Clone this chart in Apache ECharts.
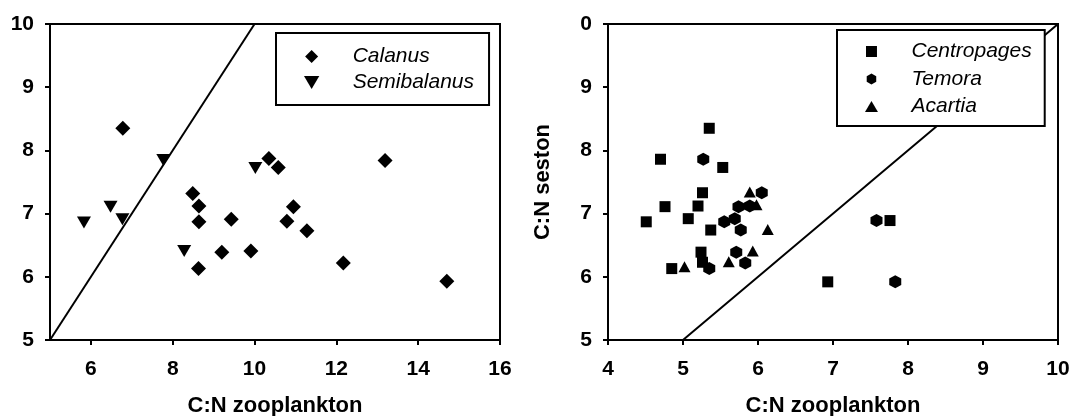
<!DOCTYPE html>
<html>
<head>
<meta charset="utf-8">
<script src="https://cdn.jsdelivr.net/npm/echarts@6/dist/echarts.min.js"></script>
<style>
html,body{margin:0;padding:0;background:#fff;}
#chart{width:1072px;height:416px;}
</style>
</head>
<body>
<div id="chart"></div>
<script>
// ---- Left panel data: [C:N zooplankton, C:N seston] ----
var calanus = [
  [6.78, 8.35], [8.49, 7.32], [8.64, 7.12], [8.64, 6.87], [8.63, 6.13],
  [9.20, 6.39], [9.43, 6.91], [9.91, 6.41], [10.35, 7.87], [10.58, 7.73],
  [10.95, 7.11], [10.79, 6.88], [11.28, 6.73], [12.17, 6.22], [13.19, 7.84],
  [14.70, 5.93]
];
var semibalanus = [
  [5.83, 6.86], [6.48, 7.11], [6.77, 6.91], [7.77, 7.85], [8.28, 6.41],
  [10.02, 7.72]
];
// ---- Right panel data ----
var centropages = [
  [4.51, 6.87], [4.70, 7.86], [4.76, 7.11], [4.85, 6.13], [5.07, 6.92],
  [5.20, 7.12], [5.26, 7.33], [5.24, 6.39], [5.26, 6.23], [5.35, 8.35],
  [5.37, 6.74], [5.53, 7.73], [6.93, 5.92], [7.76, 6.89]
];
var temora = [
  [5.27, 7.86], [5.35, 6.13], [5.55, 6.87], [5.69, 6.92], [5.71, 6.39],
  [5.74, 7.11], [5.77, 6.74], [5.83, 6.22], [5.89, 7.12], [6.05, 7.33],
  [7.58, 6.89], [7.83, 5.92]
];
var acartia = [
  [5.89, 7.34], [5.98, 7.14], [6.13, 6.75], [5.93, 6.41], [5.61, 6.24],
  [5.02, 6.16]
];
// 1:1 line
var oneToOne = [[5, 5], [10, 10]];
// tick labels
var leftXTicks = [6, 8, 10, 12, 14, 16];
var rightYLabels = {5: '5', 6: '6', 7: '7', 8: '8', 9: '9', 10: '0'};

var FONT = '"Liberation Sans", Arial, Helvetica, sans-serif';
var SYM = {
  diamond: 'path://M0,-1 L1,0 L0,1 L-1,0 Z',
  down: 'path://M0,0 L2,0 L1,1.7 Z',
  square: 'path://M0,0 L1,0 L1,1 L0,1 Z',
  hexagon: 'path://M0,-1 L0.866,-0.5 L0.866,0.5 L0,1 L-0.866,0.5 L-0.866,-0.5 Z',
  up: 'path://M1,0 L2,1.7 L0,1.7 Z'
};

var axisLineStyle = {show: true, lineStyle: {color: '#000', width: 2}};
var tickStyle = {show: true, inside: false, length: 5, lineStyle: {color: '#000', width: 2}};
var labelStyle = {color: '#000', fontFamily: FONT, fontWeight: 'bold', fontSize: 21};
var nameStyle = {color: '#000', fontFamily: FONT, fontWeight: 'bold', fontSize: 22};
var legendText = {color: '#000', fontFamily: FONT, fontStyle: 'italic', fontSize: 21};

var chart = echarts.init(document.getElementById('chart'), null, {renderer: 'canvas'});
var option = {
  animation: false,
  backgroundColor: '#fff',
  grid: [
    {left: 50, top: 24, width: 450, height: 316, show: true, borderColor: '#000', borderWidth: 2,
      containLabel: false, outerBoundsMode: 'none'},
    {left: 608, top: 24, width: 450, height: 316, show: true, borderColor: '#000', borderWidth: 2,
      containLabel: false, outerBoundsMode: 'none'}
  ],
  xAxis: [
    {
      gridIndex: 0, type: 'value', min: 5, max: 16,
      axisLine: axisLineStyle,
      axisTick: Object.assign({}, tickStyle, {customValues: leftXTicks}),
      axisLabel: Object.assign({}, labelStyle, {margin: 19, customValues: leftXTicks}),
      splitLine: {show: false},
      name: 'C:N zooplankton', nameLocation: 'middle', nameGap: 55, nameTextStyle: nameStyle
    },
    {
      gridIndex: 1, type: 'value', min: 4, max: 10, interval: 1,
      axisLine: axisLineStyle, axisTick: tickStyle,
      axisLabel: Object.assign({}, labelStyle, {margin: 19}),
      splitLine: {show: false},
      name: 'C:N zooplankton', nameLocation: 'middle', nameGap: 55, nameTextStyle: nameStyle
    }
  ],
  yAxis: [
    {
      gridIndex: 0, type: 'value', min: 5, max: 10, interval: 1,
      axisLine: axisLineStyle, axisTick: tickStyle,
      axisLabel: Object.assign({}, labelStyle, {margin: 16}),
      splitLine: {show: false}
    },
    {
      gridIndex: 1, type: 'value', min: 5, max: 10, interval: 1,
      axisLine: axisLineStyle, axisTick: tickStyle,
      axisLabel: Object.assign({}, labelStyle, {margin: 16, formatter: function (v) { return rightYLabels[v]; }}),
      splitLine: {show: false},
      name: 'C:N seston', nameLocation: 'middle', nameGap: 54, nameTextStyle: nameStyle
    }
  ],
  legend: [
    {
      data: ['Calanus', 'Semibalanus'],
      left: 276, top: 33, orient: 'vertical',
      itemWidth: 72, itemHeight: 13, itemGap: 5,
      symbolKeepAspect: true,
      padding: [13, 15, 12, 28],
      borderColor: '#000', borderWidth: 2, backgroundColor: '#fff',
      textStyle: legendText,
      selectedMode: false
    },
    {
      data: ['Centropages', 'Temora', 'Acartia'],
      left: 837, top: 30, orient: 'vertical',
      itemWidth: 70, itemHeight: 11, itemGap: 6.5,
      symbolKeepAspect: true,
      padding: [11, 13, 9, 28],
      borderColor: '#000', borderWidth: 2, backgroundColor: '#fff',
      textStyle: legendText,
      selectedMode: false
    }
  ],
  series: [
    {name: 'line1', type: 'line', xAxisIndex: 0, yAxisIndex: 0, data: oneToOne, showSymbol: false, symbol: 'none',
      lineStyle: {color: '#000', width: 2}, silent: true, clip: true, z: 1},
    {name: 'line2', type: 'line', xAxisIndex: 1, yAxisIndex: 1, data: oneToOne, showSymbol: false, symbol: 'none',
      lineStyle: {color: '#000', width: 2}, silent: true, clip: true, z: 1},
    {name: 'Calanus', type: 'scatter', xAxisIndex: 0, yAxisIndex: 0, data: calanus,
      symbol: SYM.diamond, symbolSize: [15, 15], itemStyle: {color: '#000', opacity: 1}, z: 3},
    {name: 'Semibalanus', type: 'scatter', xAxisIndex: 0, yAxisIndex: 0, data: semibalanus,
      symbol: SYM.down, symbolSize: [14, 12], itemStyle: {color: '#000', opacity: 1}, z: 3},
    {name: 'Centropages', type: 'scatter', xAxisIndex: 1, yAxisIndex: 1, data: centropages,
      symbol: SYM.square, symbolSize: [11, 11], itemStyle: {color: '#000', opacity: 1}, z: 3},
    {name: 'Temora', type: 'scatter', xAxisIndex: 1, yAxisIndex: 1, data: temora,
      symbol: SYM.hexagon, symbolSize: [12, 13], itemStyle: {color: '#000', opacity: 1}, z: 3},
    {name: 'Acartia', type: 'scatter', xAxisIndex: 1, yAxisIndex: 1, data: acartia,
      symbol: SYM.up, symbolSize: [12, 11], itemStyle: {color: '#000', opacity: 1}, z: 3}
  ]
};
chart.setOption(option);
</script>
</body>
</html>
